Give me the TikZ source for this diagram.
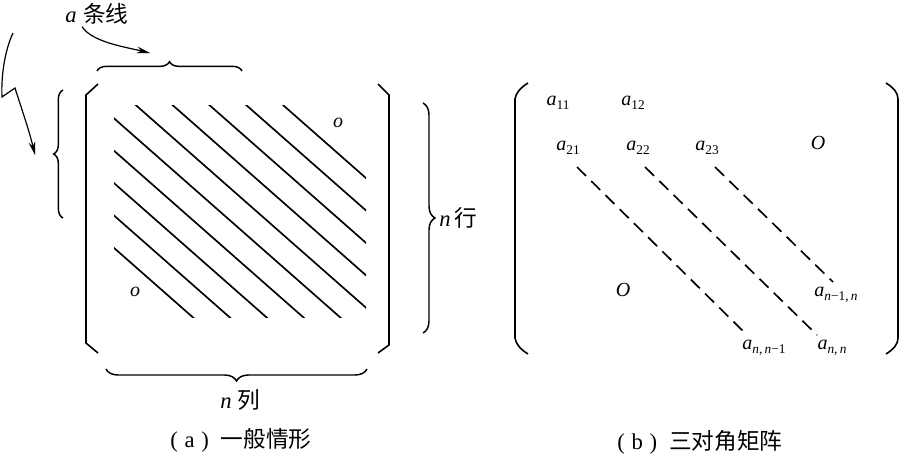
\documentclass[tikz,border=0pt]{standalone}
\usepackage{fontspec}
\setmainfont{Liberation Serif}
\newfontfamily\cjk{Noto Sans CJK SC}
\usetikzlibrary{arrows.meta,decorations.pathreplacing,calc}
\newcommand\ent[2]{\textit{#1}\raisebox{-0.4ex}{\fontsize{10}{12}\selectfont #2}}
\newcommand\capt[2]{(\hspace{5pt}#1\hspace{5pt})\hspace{9pt}{\cjk #2}}
\begin{document}
\begin{tikzpicture}[x=0.75pt,y=-0.75pt,
  ln/.style={line width=1.25pt},
  brk/.style={line width=1.2pt, line join=miter},
  brc/.style={line width=1.1pt, decorate, decoration={brace, amplitude=#1}},
  lbl/.style={inner sep=0pt, font=\fontsize{17}{20}\selectfont},
  entry/.style={inner sep=0pt, font=\fontsize{15}{18}\selectfont},
  dsh/.style={line width=1.25pt, dash pattern=on 9.5pt off 5.5pt},
  arr/.style={line width=0.9pt, -{Stealth[length=10pt,width=5pt]}}
]
\path[use as bounding box] (0,0) rectangle (901,455);

% ---------- (a) ----------
% matrix brackets
\draw[brk] (98,84) -- (86,95) -- (86,343) -- (98,353);
\draw[brk] (378,84) -- (389,95) -- (389,345) -- (378,353);

% diagonal lines
\begin{scope}
  \clip (114,105) rectangle (366,317);
  \foreach \k in {0,...,9} {
    \pgfmathsetmacro{\c}{-144+32.4*\k}
    \draw[ln] (0,\c) -- (500,{\c+440});
  }
\end{scope}

\node[entry] (oU) at (338,123) {\textit{o}};
\node[entry] (oL) at (135,292) {\textit{o}};

% braces
\draw[brc=7pt] (97,71) -- (242,71);
\draw[brc=7pt] (63,218) -- (63,90);
\draw[brc=9pt] (423,103) -- (423,333);
\draw[brc=9pt] (367,369) -- (106,369);

% labels
\node[lbl, anchor=west] (lblA) at (65,14) {\textit{a}\hspace{5pt}{\cjk 条线}};
\node[lbl, anchor=west] (lblRow) at (439,218) {\textit{n}\hspace{3pt}{\cjk 行}};
\node[lbl] (lblCol) at (240,400) {\textit{n}\hspace{4pt}{\cjk 列}};
\node[lbl] (capA) at (241,440) {\capt{a}{一般情形}};

% arrows
\coordinate (t1) at (150,53);
\coordinate (t2) at (35,155);
\coordinate (s2) at (13,33);
\draw[arr] ($(lblA.south west)+(17,2)$) .. controls (92,42) and (125,47) .. (t1);
\draw[arr] (s2) .. controls (5,50) and (1,75) .. (2,97) -- (15,88)
   .. controls (22,110) and (29,130) .. (t2);

% ---------- (b) ----------
\draw[brk] (528,83) .. controls (520,88) and (516,93) .. (515,99) -- (515,338)
   .. controls (516,344) and (520,349) .. (528,354);
\draw[brk] (886,83) .. controls (894,88) and (898,93) .. (898,99) -- (898,338)
   .. controls (898,344) and (894,349) .. (886,354);

\node[entry] (a11) at (558,103) {\ent{a}{11}};
\node[entry] (a12) at (633,103) {\ent{a}{12}};
\node[entry] (a21) at (568,148) {\ent{a}{21}};
\node[entry] (a22) at (638,148) {\ent{a}{22}};
\node[entry] (a23) at (707,148) {\ent{a}{23}};
\node[entry] (Otop) at (818,143) {\textit{O}};
\node[entry] (Obot) at (623,290) {\textit{O}};
\node[entry] (an1n) at (836,295) {\ent{a}{\textit{n}−1,\,\textit{n}}};
\node[entry] (ann1) at (764,348) {\ent{a}{\textit{n},\,\textit{n}−1}};
\node[entry] (ann) at (832,348) {\ent{a}{\textit{n},\,\textit{n}}};

\draw[dsh] ($(a21)+(9,19)$) -- ($(ann1)+(-17,-13)$);
\draw[dsh] ($(a22)+(7,19)$) -- ($(ann)+(-15,-13)$);
\draw[dsh] ($(a23)+(8,19)$) -- ($(an1n)+(-3,-13)$);

\node[lbl] (capB) at (700,442) {\capt{b}{三对角矩阵}};
\end{tikzpicture}
\end{document}
